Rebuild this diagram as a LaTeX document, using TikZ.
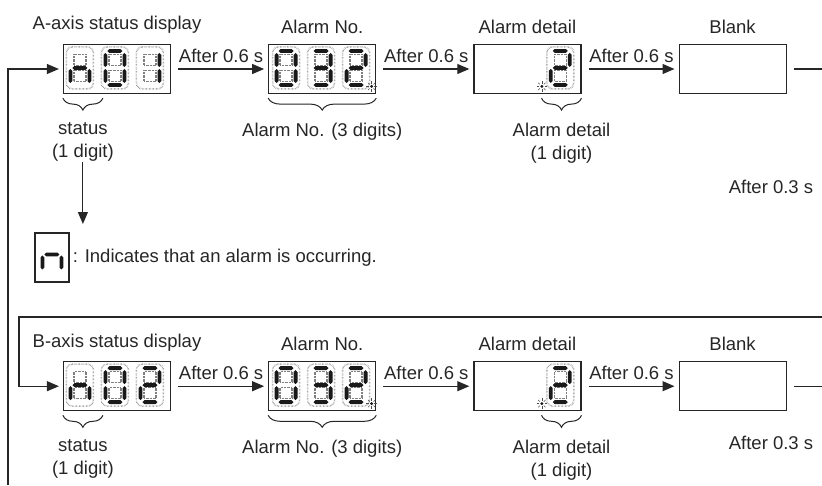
\documentclass[tikz,border=0pt]{standalone}
\usepackage{fontspec}
\setmainfont{Liberation Sans}
\usepackage{tikz}
\usetikzlibrary{positioning}
\usetikzlibrary{calc}
\usetikzlibrary{arrows.meta}
\usetikzlibrary{decorations.pathreplacing}

% one segment as a pointed bar (y going down)
\def\hseg#1#2#3{(#1,#3) -- (#1+1.9,#3-1.9) -- (#2-1.9,#3-1.9) -- (#2,#3) -- (#2-1.9,#3+1.9) -- (#1+1.9,#3+1.9) -- cycle}
\def\vseg#1#2#3{(#1,#2) -- (#1+1.9,#2+1.9) -- (#1+1.9,#3-1.9) -- (#1,#3) -- (#1-1.9,#3-1.9) -- (#1-1.9,#2+1.9) -- cycle}

% segments of one 7-segment digit, 27 x 42
\def\ssega{\hseg{6}{21}{4}}
\def\ssegb{\vseg{23}{6}{20}}
\def\ssegc{\vseg{23}{22}{36}}
\def\ssegd{\hseg{6}{21}{38}}
\def\ssege{\vseg{4}{22}{36}}
\def\ssegf{\vseg{4}{6}{20}}
\def\ssegg{\hseg{6}{21}{21}}

\newcommand{\seglit}[4]{%
  \begin{scope}[shift={(#1)},xshift=#2pt,yshift=-#3pt]
    \foreach \s in {#4} {\fill[segon] \csname sseg\s\endcsname;}
  \end{scope}}

\newcommand{\segdigit}[4]{%
  \begin{scope}[shift={(#1)},xshift=#2pt,yshift=-#3pt]
    \draw[segdots, rounded corners=6pt] (0,0) rectangle (27,42);
    \draw[segdots] (7.5,7.5) rectangle (19.5,18.5) (7.5,23.5) rectangle (19.5,34.5);
    \foreach \s in {#4} {\fill[segon] \csname sseg\s\endcsname;}
  \end{scope}}

\newcommand{\dpflash}[1]{%
  \begin{scope}[shift={(#1)}]
    \fill[black!90] (0,0) circle (1.6pt);
    \foreach \a in {0,45,...,315} {\draw[black!70, line width=0.5pt] (\a:2.8) -- (\a:5.2);}
  \end{scope}}

\begin{document}
\begin{tikzpicture}[x=1pt, y=-1pt,
    font=\fontsize{18.5}{23}\selectfont, text=black!85,
    box/.style={draw=black!85, line width=1.2pt, minimum width=107pt, minimum height=49pt, inner sep=0pt},
    title/.style={inner sep=0pt},
    lbl/.style={inner sep=0pt, align=center},
    tlbl/.style={midway, above=6pt, inner sep=0pt},
    arr/.style={draw=black!85, line width=1.1pt, -{Triangle[length=12pt,width=10pt]}},
    wire/.style={draw=black!85, line width=1.1pt},
    brc/.style={draw=black!85, line width=1pt, decorate, decoration={brace, mirror, amplitude=12pt}},
    segdots/.style={draw=black!50, line width=1.5pt, dash pattern=on 0.4pt off 1pt},
    segon/.style={fill=black!90}]

    \useasboundingbox (0,0) rectangle (822,485);

    % A axis
    \node[box] (boxA) at (117,69) {};
    \node[box, right=97pt of boxA] (noA) {};
    \node[box, right=97pt of noA] (detA) {};
    \node[box, right=97pt of detA] (blkA) {};

    \node[title, above=10pt of boxA] (tA) {A-axis status display};
    \node[title, above=10pt of noA] (tnoA) {Alarm No.};
    \node[title, above=10pt of detA] (tdetA) {Alarm detail};
    \node[title, above=10pt of blkA] (tblkA) {Blank};

    \segdigit{boxA.north west}{3.5}{3}{e,g,c}
    \segdigit{boxA.north west}{38.5}{3}{a,b,c,d,e,f}
    \segdigit{boxA.north west}{73.5}{3}{b,c}
    \segdigit{noA.north west}{4.5}{3}{a,b,c,d,e,f}
    \segdigit{noA.north west}{39.5}{3}{a,b,g,c,d}
    \segdigit{noA.north west}{74.5}{3}{a,b,g,e,d}
    \dpflash{$(noA.north west)+(103.5,42.5)$}
    \segdigit{detA.north west}{73.5}{3}{a,b,g,e,d}
    \dpflash{$(detA.north west)+(68.5,42.5)$}

    \draw[arr] ([xshift=7pt]boxA.east) -- node[tlbl] {After 0.6 s} ([xshift=-4pt]noA.west);
    \draw[arr] ([xshift=7pt]noA.east) -- node[tlbl] {After 0.6 s} ([xshift=-4pt]detA.west);
    \draw[arr] ([xshift=7pt]detA.east) -- node[tlbl] {After 0.6 s} ([xshift=-4pt]blkA.west);
    \coordinate (edgeR) at (822,0);
    \draw[wire] ([xshift=7pt]blkA.east) -- (blkA.east -| edgeR);

    \draw[brc] ([yshift=-4pt]boxA.south west) -- ([xshift=40pt,yshift=-4pt]boxA.south west)
        node[lbl, midway, below=24pt] (stA) {status\\(1 digit)};
    \draw[brc] ([yshift=-4pt]noA.south west) -- ([yshift=-4pt]noA.south east)
        node[lbl, midway, below=24pt] (anA) {Alarm No. (3 digits)};
    \draw[brc] ([xshift=-40pt,yshift=-4pt]detA.south east) -- ([yshift=-4pt]detA.south east)
        node[lbl, midway, below=24pt] (adA) {Alarm detail\\(1 digit)};

    \node (waitA) at (771,187) {After 0.3 s};

    % alarm note
    \coordinate (dn) at (83,224);
    \draw[arr] (stA.south) -- (stA.south |- dn);
    \node[draw=black!85, line width=1.2pt, minimum width=34pt, minimum height=49pt, inner sep=0pt] (nbox) at (52,257.5) {};
    \seglit{nbox.north west}{4}{1}{e,g,c}
    \node[right=3pt of nbox, inner sep=0pt] (note) {: Indicates that an alarm is occurring.};

    \coordinate (loopA) at (8,485);
    \draw[arr] (loopA) |- ([xshift=-4pt]boxA.west);

    % B axis
    \node[box, below=267pt of boxA] (boxB) {};
    \node[box, right=97pt of boxB] (noB) {};
    \node[box, right=97pt of noB] (detB) {};
    \node[box, right=97pt of detB] (blkB) {};

    \node[title, above=10pt of boxB] (tB) {B-axis status display};
    \node[title, above=10pt of noB] (tnoB) {Alarm No.};
    \node[title, above=10pt of detB] (tdetB) {Alarm detail};
    \node[title, above=10pt of blkB] (tblkB) {Blank};

    \segdigit{boxB.north west}{3.5}{3}{e,g,c}
    \segdigit{boxB.north west}{38.5}{3}{a,b,c,d,e,f}
    \segdigit{boxB.north west}{73.5}{3}{a,b,g,e,d}
    \segdigit{noB.north west}{4.5}{3}{a,b,c,d,e,f}
    \segdigit{noB.north west}{39.5}{3}{a,b,g,c,d}
    \segdigit{noB.north west}{74.5}{3}{a,b,g,e,d}
    \dpflash{$(noB.north west)+(103.5,42.5)$}
    \segdigit{detB.north west}{73.5}{3}{a,b,g,e,d}
    \dpflash{$(detB.north west)+(68.5,42.5)$}

    \draw[arr] ([xshift=7pt]boxB.east) -- node[tlbl] {After 0.6 s} ([xshift=-4pt]noB.west);
    \draw[arr] ([xshift=7pt]noB.east) -- node[tlbl] {After 0.6 s} ([xshift=-4pt]detB.west);
    \draw[arr] ([xshift=7pt]detB.east) -- node[tlbl] {After 0.6 s} ([xshift=-4pt]blkB.west);
    \draw[wire] ([xshift=7pt]blkB.east) -- (blkB.east -| edgeR);

    \draw[brc] ([yshift=-4pt]boxB.south west) -- ([xshift=40pt,yshift=-4pt]boxB.south west)
        node[lbl, midway, below=24pt] (stB) {status\\(1 digit)};
    \draw[brc] ([yshift=-4pt]noB.south west) -- ([yshift=-4pt]noB.south east)
        node[lbl, midway, below=24pt] (anB) {Alarm No. (3 digits)};
    \draw[brc] ([xshift=-40pt,yshift=-4pt]detB.south east) -- ([yshift=-4pt]detB.south east)
        node[lbl, midway, below=24pt] (adB) {Alarm detail\\(1 digit)};

    \node (waitB) at (771,443) {After 0.3 s};

    \coordinate (loopB) at (822,317);
    \coordinate (bendB) at (19,317);
    \draw[arr] (loopB) -- (bendB) |- ([xshift=-4pt]boxB.west);
\end{tikzpicture}
\end{document}
